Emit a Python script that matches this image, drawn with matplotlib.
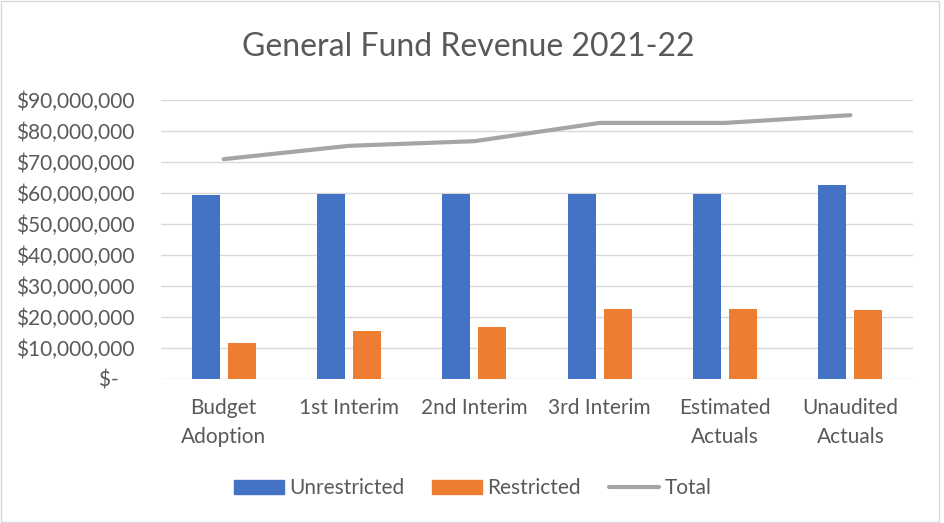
import matplotlib
matplotlib.use("Agg")
import matplotlib.pyplot as plt
import numpy as np
from matplotlib.lines import Line2D
from matplotlib.patches import Patch, Rectangle

categories = ["Budget\nAdoption", "1st Interim", "2nd Interim", "3rd Interim",
              "Estimated\nActuals", "Unaudited\nActuals"]
unrestricted = [59.2e6, 59.6e6, 59.6e6, 59.6e6, 59.6e6, 62.7e6]
restricted = [11.4e6, 15.5e6, 16.7e6, 22.5e6, 22.5e6, 22.2e6]
total = [70.9e6, 75.2e6, 76.7e6, 82.6e6, 82.6e6, 85.1e6]
y_ticks = list(range(0, 90_000_001, 10_000_000))

BLUE = "#4472c4"
ORANGE = "#ed7d31"
GRAY = "#a5a5a5"
TEXT = "#595959"
GRID = "#d9d9d9"
FONT = "Lato"
FS = 15

fig = plt.figure(figsize=(9.45, 5.23), dpi=100)
ax = fig.add_axes([0.1704, 0.2759, 0.7958, 0.5329])

x = np.arange(len(categories))
w = 0.223
off = 0.144
ax.bar(x - off, unrestricted, w, color=BLUE, zorder=3, label="Unrestricted")
ax.bar(x + off, restricted, w, color=ORANGE, zorder=3, label="Restricted")
ax.plot(x, total, color=GRAY, lw=3, solid_capstyle="round", zorder=4, label="Total")

ax.set_xlim(-0.5, len(categories) - 0.5)
ax.set_ylim(0, 90_000_000)
ax.set_yticks(y_ticks)
ax.set_yticklabels(["$-   " if v == 0 else f"${v:,.0f}" for v in y_ticks],
                   fontsize=FS, color=TEXT, family=FONT)
ax.set_xticks(x)
ax.set_xticklabels(categories, fontsize=FS, color=TEXT, family=FONT, linespacing=1.55)
ax.tick_params(axis="x", length=0, pad=14)
ax.tick_params(axis="y", length=0, pad=19)
ax.grid(axis="y", color=GRID, lw=1, zorder=0)
for s in ax.spines.values():
    s.set_visible(False)

fig.text(0.495, 0.91, "General Fund Revenue 2021-22", ha="center", va="center",
         fontsize=23, color=TEXT, family=FONT)

handles = [Patch(color=BLUE), Patch(color=ORANGE),
           Line2D([0], [0], color=GRAY, lw=3, solid_capstyle="round")]
fig.legend(handles, ["Unrestricted", "Restricted", "Total"], loc="center",
           bbox_to_anchor=(0.5, 0.067), ncol=3, frameon=False,
           prop={"family": FONT, "size": FS}, labelcolor=TEXT,
           handlelength=2.4, handleheight=0.65, handletextpad=0.25, columnspacing=1.35)

fig.patches.append(Rectangle((0.001, 0.002), 0.993, 0.996, transform=fig.transFigure,
                             fill=False, edgecolor=GRID, lw=1))

fig.savefig("out.png", dpi=100, facecolor="white")
